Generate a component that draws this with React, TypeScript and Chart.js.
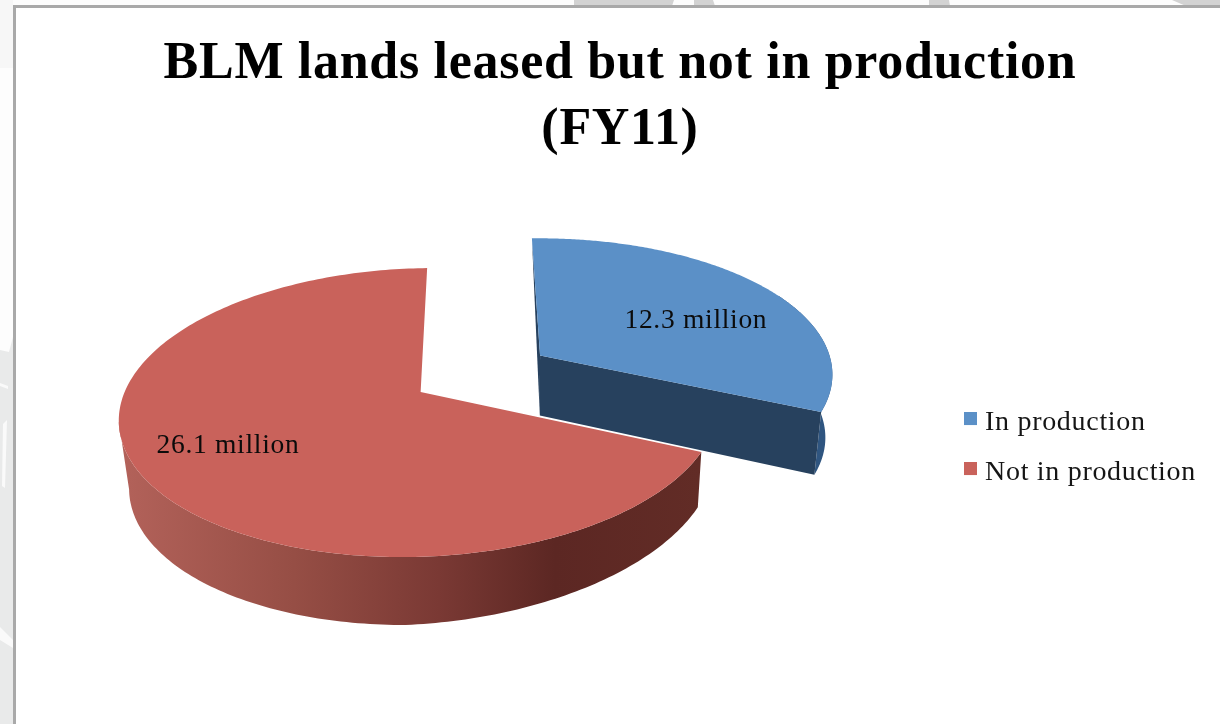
import React, { useEffect, useRef } from "react";
import { Chart, registerables } from "chart.js";

Chart.register(...registerables);

const categories = ["In production", "Not in production"];
const values = [12.3, 26.1];
const valueLabels = ["12.3 million", "26.1 million"];
const titleLines = ["BLM lands leased but not in production", "(FY11)"];
const topColors = ["#5b90c7", "#c9625b"];

const SERIF = "'Liberation Serif', serif";
const K = 0.142;
const RX = 296;
const RY = 141.6;
const SHEAR = -16;
const CX = 423;
const CY = 392;
const ROTATE = -0.03;
const sliceShift = [
  { du: 0.396, dv: -0.268, grow: 1.015 },
  { du: -0.008, dv: 0, grow: 1 },
];
const labelAt = [
  { f: 0.68, dx: 0, dy: 11 },
  { f: 0.715, dx: 3, dy: -3 },
];

// drop of the bottom face under the top face, per slice
function dropOf(i: number, u: number) {
  return i === 0 ? 60 + 3 * Math.max(0, u) : 68 - 14 * Math.max(0, u);
}

// perspective projection of a point on the pie plane; z is the drop below the top face
function project(u: number, v: number, z = 0) {
  const w = 1 - K * v;
  const x = CX + (RX * u + SHEAR * v) / w;
  const shrink = 1 - 0.024 * (z / 65);
  return { x: 530 + (x - 530) * shrink, y: CY + (RY * v) / w + z };
}

function pieDrawing(chart: any) {
  const ctx = chart.ctx as CanvasRenderingContext2D;
  const arcs = chart.getDatasetMeta(0).data;
  const full = -Math.PI / 2;

  const arcPts = (a0: number, a1: number, i: number, low: boolean) => {
    const s = sliceShift[i];
    const pts: { x: number; y: number }[] = [];
    const n = 240;
    for (let k = 0; k <= n; k++) {
      const t = a0 + ((a1 - a0) * k) / n - full + ROTATE;
      const sn = Math.sin(t);
      pts.push(
        project(sn * s.grow + s.du, -Math.cos(t) * s.grow + s.dv, low ? dropOf(i, sn) : 0)
      );
    }
    return pts;
  };
  const trace = (pts: { x: number; y: number }[]) => {
    pts.forEach((p, k) => (k ? ctx.lineTo(p.x, p.y) : ctx.moveTo(p.x, p.y)));
  };

  ctx.save();
  [1, 0].forEach((i) => {
    const el = arcs[i];
    const s = sliceShift[i];
    const top = arcPts(el.startAngle, el.endAngle, i, false);
    const low = arcPts(el.startAngle, el.endAngle, i, true);
    const apex = project(s.du, s.dv, 0);
    const apexLow = project(s.du, s.dv, dropOf(i, 0));

    if (i === 0) {
      const from = Math.floor(top.length * 0.55);
      ctx.fillStyle = "#2f5580";
      ctx.beginPath();
      trace(top.slice(from));
      low.slice(from).reverse().forEach((p) => ctx.lineTo(p.x, p.y));
      ctx.closePath();
      ctx.fill();
      ctx.fillStyle = "#27415e";
      ctx.beginPath();
      trace([top[0], apex, apexLow]);
      ctx.closePath();
      ctx.fill();
      const last = top.length - 1;
      ctx.beginPath();
      trace([apex, top[last], low[last], apexLow]);
      ctx.closePath();
      ctx.fill();
    } else {
      const g = ctx.createLinearGradient(120, 0, 700, 0);
      g.addColorStop(0, "#b3625a");
      g.addColorStop(0.3, "#964e45");
      g.addColorStop(0.55, "#7a3934");
      g.addColorStop(0.75, "#5c2723");
      g.addColorStop(1, "#622c26");
      ctx.fillStyle = g;
      // only the part of the wall that faces the viewer: up to the leftmost point
      let cut = 0;
      top.forEach((p, k) => {
        if (p.x < top[cut].x) cut = k;
      });
      ctx.beginPath();
      trace(top.slice(0, cut + 1));
      low.slice(0, cut + 1).reverse().forEach((p) => ctx.lineTo(p.x, p.y));
      ctx.closePath();
      ctx.fill();
    }

    ctx.fillStyle = topColors[i];
    ctx.beginPath();
    ctx.moveTo(apex.x, apex.y);
    top.forEach((p) => ctx.lineTo(p.x, p.y));
    ctx.closePath();
    ctx.fill();
  });

  ctx.fillStyle = "#0b0b0b";
  ctx.font = `27.5px ${SERIF}`;
  ctx.textAlign = "center";
  ctx.textBaseline = "middle";
  arcs.forEach((el: any, i: number) => {
    const t = (el.startAngle + el.endAngle) / 2 - full;
    const s = sliceShift[i];
    const f = labelAt[i].f;
    const p = project(Math.sin(t) * f + s.du, -Math.cos(t) * f + s.dv);
    ctx.fillText(valueLabels[i], p.x + labelAt[i].dx, p.y + labelAt[i].dy);
  });
  ctx.restore();
  return false;
}

function poly(ctx: CanvasRenderingContext2D, color: string, pts: number[][]) {
  ctx.fillStyle = color;
  ctx.beginPath();
  pts.forEach((p, i) => (i ? ctx.lineTo(p[0], p[1]) : ctx.moveTo(p[0], p[1])));
  ctx.closePath();
  ctx.fill();
}

const backdrop = {
  id: "backdrop",
  beforeLayout(chart: any) {
    chart.ctx.letterSpacing = "0.7px";
  },
  beforeDraw(chart: any) {
    const ctx = chart.ctx as CanvasRenderingContext2D;
    ctx.letterSpacing = "0.7px";
    const g = "#e9eaea";
    const top = "#d3d3d3";
    const pale = "#fafafa";
    ctx.save();
    ctx.fillStyle = "#fdfdfd";
    ctx.fillRect(0, 0, 1220, 724);
    poly(ctx, "#f7f7f7", [[0, 0], [13, 0], [13, 68], [0, 68]]);
    poly(ctx, g, [[13, 337], [13, 724], [0, 724], [0, 350], [9, 352]]);
    poly(ctx, pale, [[0, 383], [8, 386], [8, 389], [0, 386]]);
    poly(ctx, pale, [[3, 424], [7, 420], [5, 488], [2, 486]]);
    poly(ctx, pale, [[0, 627], [13, 640], [13, 648], [0, 640]]);
    poly(ctx, top, [[574, 0], [674, 0], [672, 6], [574, 6]]);
    poly(ctx, top, [[694, 0], [713, 0], [715, 6], [694, 6]]);
    poly(ctx, top, [[929, 0], [949, 0], [950, 6], [929, 6]]);
    poly(ctx, top, [[1172, 0], [1220, 0], [1220, 6], [1186, 6]]);
    ctx.fillStyle = "#ffffff";
    ctx.fillRect(15, 7, 1205, 717);
    ctx.fillStyle = "#a9a9a9";
    ctx.fillRect(13, 5, 1207, 3);
    ctx.fillRect(13, 5, 3, 719);
    ctx.restore();
  },
};

const pie3d = {
  id: "pie3d",
  beforeDatasetsDraw(chart: any) {
    return pieDrawing(chart);
  },
};

function marker(color: string) {
  const c = document.createElement("canvas");
  c.width = 13;
  c.height = 21;
  const x = c.getContext("2d")!;
  x.fillStyle = color;
  x.fillRect(0, 0, 13, 13);
  return c;
}

export default function App() {
  const ref = useRef<HTMLCanvasElement>(null);
  useEffect(() => {
    const chart = new Chart(ref.current!, {
      type: "pie",
      data: {
        labels: categories,
        datasets: [{ data: values, backgroundColor: topColors, borderWidth: 0 }],
      },
      options: {
        responsive: false,
        animation: false,
        devicePixelRatio: 1,
        layout: { padding: { top: 0, right: 14, bottom: 0, left: 34 } },
        plugins: {
          tooltip: { enabled: false },
          title: {
            display: true,
            text: titleLines,
            color: "#000",
            font: { family: SERIF, size: 52, weight: "bold", lineHeight: 1.27 },
            padding: { top: 32, bottom: 7 },
          },
          legend: {
            position: "right",
            fullSize: false,
            labels: {
              color: "#151515",
              font: { family: SERIF, size: 28 },
              usePointStyle: true,
              boxWidth: 1,
              boxHeight: 13,
              padding: 22,
              generateLabels(c: any) {
                return (Chart as any).overrides.doughnut.plugins.legend.labels
                  .generateLabels(c)
                  .map((item: any, i: number) => ({ ...item, pointStyle: marker(topColors[i]) }));
              },
            },
          },
        },
      },
      plugins: [backdrop, pie3d],
    } as any);
    return () => chart.destroy();
  }, []);
  return (
    <canvas
      ref={ref}
      width={1220}
      height={724}
      style={{ position: "fixed", left: 0, top: 0, display: "block" }}
    />
  );
}
